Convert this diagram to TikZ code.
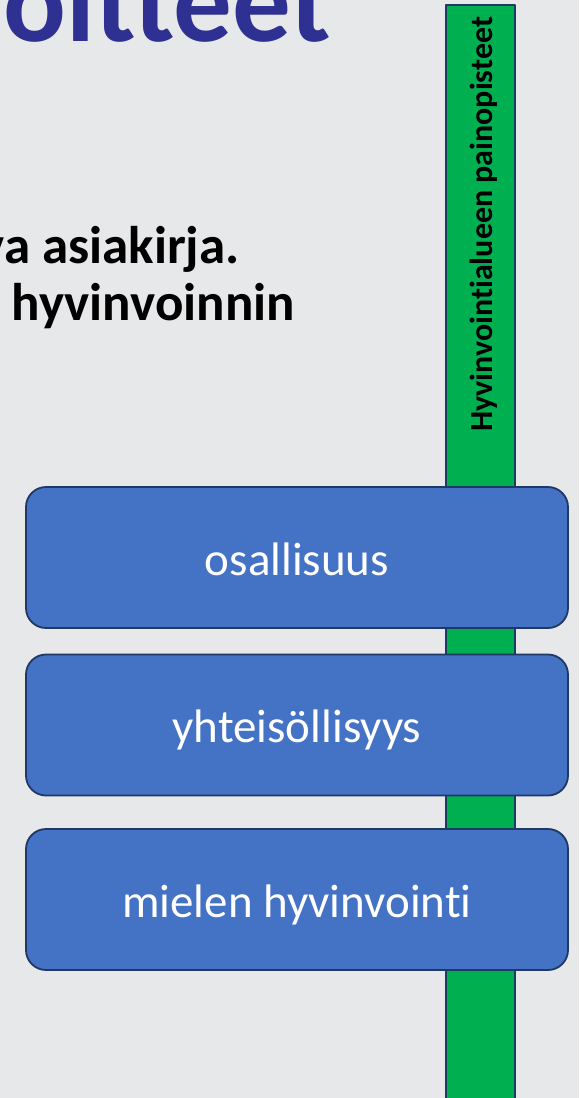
\documentclass[tikz,border=0pt]{standalone}
\usepackage{fontspec}
\setmainfont{Carlito}[Ligatures={NoCommon}]
\definecolor{tausta}{HTML}{E7E8EA}
\definecolor{sininen}{HTML}{4472C4}
\definecolor{reuna}{HTML}{1F3864}
\definecolor{vihrea}{HTML}{00B050}
\definecolor{otsikkosin}{HTML}{2E3192}
\begin{document}
\begin{tikzpicture}[x=1pt,y=-1pt, line join=round,
    laatikko/.style={draw=reuna, line width=1.8pt, fill=sininen, rounded corners=20pt,
      minimum width=542pt, minimum height=141pt, inner sep=0pt, text=white,
      font=\fontsize{47}{47}\selectfont, text height=35pt, text depth=0pt},
    leipa/.style={inner sep=0pt, font=\bfseries\fontsize{53}{53}\selectfont}]
    % sivun koko
    \def\W{579} \def\H{1098}
    \useasboundingbox (0,0) rectangle (\W,\H);
    \fill[tausta] (0,0) rectangle (\W,\H);
    % otsikko ja leipateksti (leikkautuvat reunasta)
    \node[inner sep=0pt, anchor=base east, text=otsikkosin,
      font=\bfseries\fontsize{117}{117}\selectfont] (otsikko) at (331,41) {oitteet};
    \node[leipa, anchor=base east] (rivi1) at (240,263) {va asiakirja.};
    \node[leipa, anchor=base east] (rivi2) at (295,320) {hyvinvoinnin};
    % vihrea palkki
    \draw[fill=vihrea, draw=reuna, line width=1.8pt] (446,5) rectangle (515,1110);
    \node[inner sep=0pt, anchor=base, rotate=90,
      font=\bfseries\fontsize{32}{32}\selectfont] (painopisteet) at (492,224.5) {Hyvinvointialueen painopisteet};
    % laatikot
    \foreach \nimi/\y/\teksti in {osa/557.5/osallisuus, yht/725/yhteisöllisyys, mie/899.5/mielen hyvinvointi}
    \node[laatikko] (\nimi) at (297,\y) {\teksti};
\end{tikzpicture}
\end{document}
